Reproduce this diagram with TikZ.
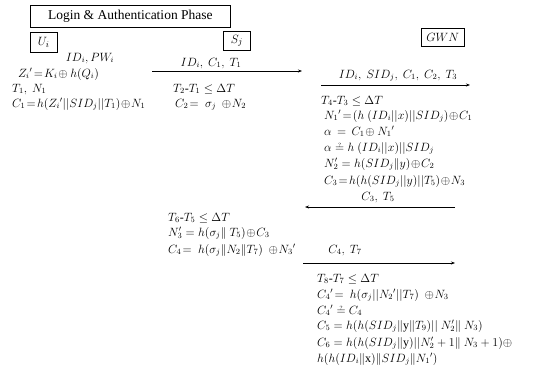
\documentclass[tikz,border=0pt]{standalone}
\usepackage{fontspec}
\setmainfont{Liberation Serif}
\usetikzlibrary{arrows.meta}
\newcommand{\qeq}{\mathrel{\ooalign{$=$\cr\hidewidth\raisebox{0.55ex}{$\scriptscriptstyle ?$}\hidewidth\cr}}}
\begin{document}
\begin{tikzpicture}[x=1pt,y=-1pt,
  txt/.style={anchor=base west, inner sep=0pt, font=\fontsize{12}{14}\selectfont},
  ctxt/.style={anchor=base, inner sep=0pt, font=\fontsize{12}{14}\selectfont},
  lbox/.style={draw, line width=0.6pt, inner sep=0pt, anchor=north west},
  msg/.style={-{Stealth[length=4pt,width=3pt]}, line width=0.9pt}]
\useasboundingbox (0,0) rectangle (556,383);
% boxes
\node[lbox, minimum width=200pt, minimum height=22pt, font=\fontsize{13.5}{15}\selectfont] (title) at (30,5) {Login \& Authentication Phase};
\node[lbox, minimum width=27pt, minimum height=20pt, font=\fontsize{13}{15}\selectfont] (ui) at (30,32) {$U_i$};
\node[lbox, minimum width=27pt, minimum height=19pt, font=\fontsize{13}{15}\selectfont] (sj) at (223,31) {$S_j$};
\node[lbox, minimum width=43pt, minimum height=18pt, font=\fontsize{13}{15}\selectfont] (gwn) at (421,28) {$GWN$};
% user side
\node[ctxt] (u1) at (90,61) {$ID_i, PW_i$};
\node[txt] (u2) at (18,77) {$Z_i{}'\!=\!K_i\!\oplus h(Q_i)$};
\node[txt] (u3) at (12,92) {$T_1,\ N_1$};
\node[txt] (u4) at (12,107) {$C_1\!=\!h(Z_i{}'||SID_j||T_1)\!\oplus\! N_1$};
% msg 1
\coordinate (a1s) at (152,71);
\coordinate (a1e) at (302,71);
\draw[msg] (a1s) -- (a1e);
\node[ctxt] (m1) at (211,66) {$ID_i,\ C_1,\ T_1$};
\node[txt] (s1) at (173,92) {$T_2\mbox{-}T_1\leq \Delta T$};
\node[txt] (s2) at (175,107) {$C_2\!=\ \sigma_j\ \oplus\! N_2$};
% msg 2
\coordinate (a2s) at (321,85);
\coordinate (a2e) at (470,85);
\draw[msg] (a2s) -- (a2e);
\node[ctxt] (m2) at (398,78) {$ID_i,\ SID_j,\ C_1,\ C_2,\ T_3$};
\node[txt] (g1) at (321,104) {$T_4\mbox{-}T_3\leq \Delta T$};
\node[txt] (g2) at (324,119) {$N_1{}'\!=\!(h\ (ID_i||x)||SID_j)\!\oplus\! C_1$};
\node[txt] (g3) at (324,135) {$\alpha\,=\,C_1\!\oplus N_1{}'$};
\node[txt] (g4) at (324,151) {$\alpha\qeq h\ (ID_i||x)||SID_j$};
\node[txt] (g5) at (324,167) {$N_2'=h(SID_j\|y)\!\oplus\! C_2$};
\node[txt] (g6) at (324,184) {$C_3\!=\!h(h(SID_j||y)||T_5)\!\oplus\! N_3$};
% msg 3
\coordinate (a3s) at (455,207);
\coordinate (a3e) at (305,207);
\draw[msg] (a3s) -- (a3e);
\node[ctxt] (m3) at (378,200) {$C_3,\ T_5$};
\node[txt] (s3) at (168,221) {$T_6\mbox{-}T_5\leq \Delta T$};
\node[txt] (s4) at (168,236) {$N_3'=h(\sigma_j\|\ T_5)\!\oplus\! C_3$};
\node[txt] (s5) at (168,253) {$C_4\!=\ h(\sigma_j\|N_2\|T_7)\ \oplus\! N_3{}'$};
% msg 4
\coordinate (a4s) at (303,263);
\coordinate (a4e) at (455,263);
\draw[msg] (a4s) -- (a4e);
\node[ctxt] (m4) at (345,253) {$C_4,\ T_7$};
\node[txt] (g7) at (317,282) {$T_8\mbox{-}T_7\leq \Delta T$};
\node[txt] (g8) at (317,298) {$C_4{}'\!=\ h(\sigma_j||N_2{}'||T_7)\ \oplus\! N_3$};
\node[txt] (g9) at (317,314) {$C_4{}'\qeq C_4$};
\node[txt] (g10) at (317,329) {$C_5=h(h(SID_j\|\mathrm{y}\|T_9)||\ N_2'\|\ N_3)$};
\node[txt] (g11) at (317,346) {$C_6=h(h(SID_j\|\mathrm{y})||N_2'+1\|\ N_3+1)\oplus$};
\node[txt] (g12) at (317,362) {$h(h(ID_i\|\mathrm{x})\|SID_j\|N_1{}')$};
\end{tikzpicture}
\end{document}
